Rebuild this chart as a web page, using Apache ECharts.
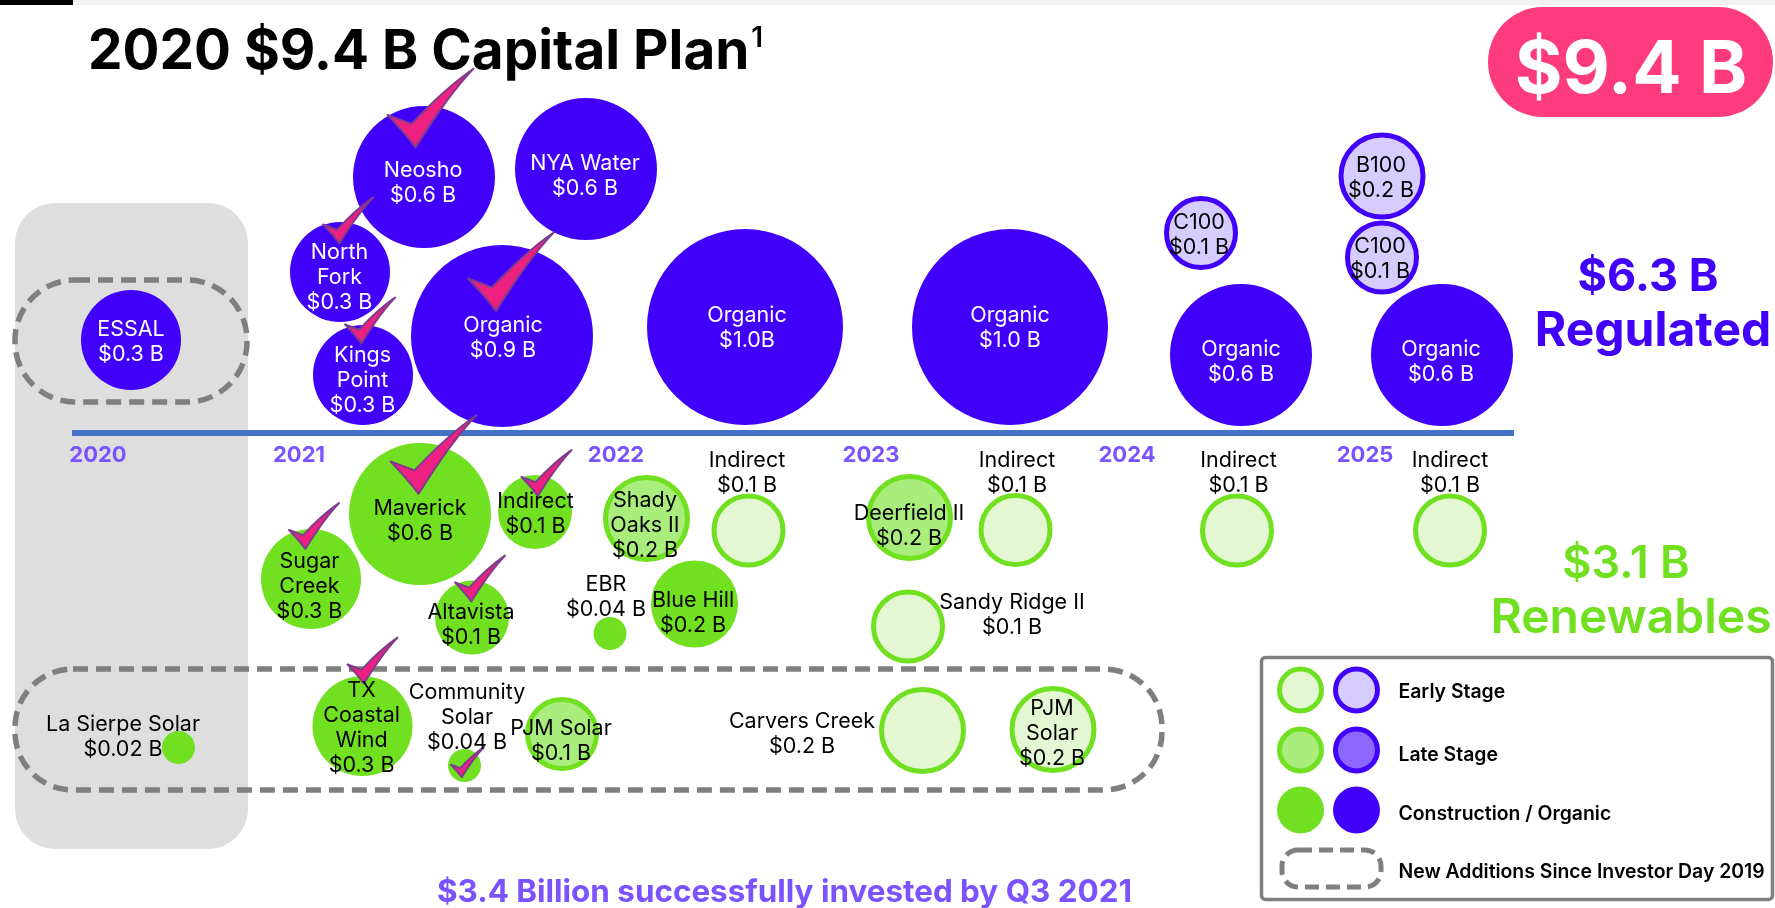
<!DOCTYPE html>
<html><head><meta charset="utf-8">
<style>html,body{margin:0;padding:0;background:#fff}#c{width:1775px;height:908px}</style>
<script src="https://cdn.jsdelivr.net/npm/echarts@6/dist/echarts.min.js"></script>
</head><body><div id="c"></div>
<script>
const FONT = 'Inter';
const titleText = '2020 $9.4 B Capital Plan';
const totalText = '$9.4 B';
const footText = '$3.4 Billion successfully invested by Q3 2021';

// Timeline
const years = ['2020','2021','2022','2023','2024','2025'];
const yearX = [98,299,616,871,1127,1365];

// Regulated projects
const regNames  = ['ESSAL','Neosho','NYA Water','North\nFork','Kings\nPoint','Organic','Organic','Organic','Organic','Organic','C100','B100','C100'];
const regAmount = ['$0.3 B','$0.6 B','$0.6 B','$0.3 B','$0.3 B','$0.9 B','$1.0B','$1.0 B','$0.6 B','$0.6 B','$0.1 B','$0.2 B','$0.1 B'];
const regValues = [0.3,0.6,0.6,0.3,0.3,0.9,1.0,1.0,0.6,0.6,0.1,0.2,0.1];
const regStage  = [2,2,2,2,2,2,2,2,2,2,0,0,0];
const regX = [131,424,586,340,363,502,745,1010,1241,1442,1201,1382,1382];
const regY = [340,177,169,272,375,336,327,327,355,355,233,176,257.5];
const regLabelX = [131,423,585,339.5,362.5,503,747,1010,1241,1441,1199,1381,1380];
const regLabelY = [342,183,176,277.5,380.5,338,328.5,328.5,362,362,235.5,178.5,259.5];

// Renewable projects
const renNames  = ['Maverick','Indirect','Sugar\nCreek','Altavista','EBR','Blue Hill','Shady\nOaks II','Indirect','Deerfield II','Indirect','Sandy Ridge II','Indirect','Indirect','La Sierpe Solar','TX\nCoastal\nWind','Community\nSolar','PJM Solar','Carvers Creek','PJM\nSolar'];
const renAmount = ['$0.6 B','$0.1 B','$0.3 B','$0.1 B','$0.04 B','$0.2 B','$0.2 B','$0.1 B','$0.2 B','$0.1 B','$0.1 B','$0.1 B','$0.1 B','$0.02 B','$0.3 B','$0.04 B','$0.1 B','$0.2 B','$0.2 B'];
const renValues = [0.6,0.1,0.3,0.1,0.04,0.2,0.2,0.1,0.2,0.1,0.1,0.1,0.1,0.02,0.3,0.04,0.1,0.2,0.2];
const renStage  = [2,2,2,2,2,2,1,0,1,0,0,0,0,2,2,2,1,0,0];
const renX = [420,535,311,472,610,694.5,646.5,748.5,909.5,1015.5,908,1237,1450,178.5,362.5,464.5,562,922.5,1053];
const renY = [514,512,579,617.5,633.5,604,518.5,530.5,517.5,530,626.5,530.5,530.5,747.5,726,765.5,734,730.5,729.5];
const renLabelX = [420,535.5,309.5,471,606,693,645,747,909,1017,1012,1238.5,1450,123,361.6,467,561,802,1052];
const renLabelY = [521,514,586.5,625,597,613,525.5,473.5,526,473.5,615,473.5,473.5,737,728.5,717.5,741,734,733.5];

// Completed ("invested") check marks
const checkX = [430.5,348,370,511,433.5,546.5,314,480,372.5,467.5];
const checkY = [108,220.5,320.5,271.5,454.5,473,526,578.5,660.5,762];
const checkTier = [2,1,1,2,2,1,1,1,1,0];

// Segment totals
const segAmounts = ['$6.3 B','$3.1 B'];
const segNames = ['Regulated','Renewables'];
const segAmountX = [1648,1626];
const segAmountY = [277,564];
const segNameX = [1653,1631];
const segNameY = [332,619];

// Legend
const legendLabels = ['Early Stage','Late Stage','Construction / Organic','New Additions Since Investor Day 2019'];
const legendY = [692,755,814,872];
const legendSwatchY = [690,750,810];

const sizeByValue = {0.02:33,0.04:33,0.1:74,0.2:87,0.3:100,0.6:142,0.9:182,1.0:196};
const checkWidth = [33,50,86];
const GREEN='#70E020', PURPLE='#4000FA';
const fills = {green:['#E3F7D2','#A9ED7C',GREEN], purple:['#D7CCFF','#8B66FF',PURPLE]};
const CHECK='path://M0 138 L72 165 Q170 60 257 0 Q180 80 84 235 Q50 190 0 138 Z';

function stageStyle(hue, stage){
  return {opacity:1,color:fills[hue][stage], borderColor:hue==='green'?GREEN:PURPLE, borderWidth:stage===2?0:5};
}
function bubbleSeries(name,hue,xs,ys,vals,stages){
  return [0,1,2].map(st=>({
    type:'scatter', name:name+' stage '+st, z:3, silent:true,
    symbolSize:d=>sizeByValue[d[2]]-(st===2?0:5),
    itemStyle:stageStyle(hue,st),
    data:xs.map((x,i)=>[x,ys[i],vals[i],stages[i]]).filter(d=>d[3]===st)
  }));
}
function textSeries(name,data,opts){
  return {type:'scatter',name,z:6,silent:true,symbolSize:1,
    itemStyle:{color:'transparent',opacity:1},
    label:Object.assign({show:true,position:'inside',align:'center',verticalAlign:'middle',fontFamily:FONT,fontSize:21.5,lineHeight:25,color:'#000',
      formatter:p=>p.value[2]},opts||{}),
    data};
}
const regLabels = regNames.map((n,i)=>({value:[regLabelX[i],regLabelY[i],n+'\n'+regAmount[i]],
  label:{color:regStage[i]===2?'#fff':'#000'}}));
const renLabels = renNames.map((n,i)=>[renLabelX[i],renLabelY[i],n+'\n'+renAmount[i]]);

const series = [
  {type:'line',name:'Timeline',z:2,silent:true,symbol:'none',lineStyle:{color:'#4472C4',width:6},data:[[72,433],[1514,433]]},
  ...bubbleSeries('Regulated','purple',regX,regY,regValues,regStage),
  ...bubbleSeries('Renewables','green',renX,renY,renValues,renStage),
  {type:'scatter',name:'Invested',z:4,silent:true,symbol:CHECK,
    symbolSize:d=>[checkWidth[d[2]],checkWidth[d[2]]*0.915],
    itemStyle:{opacity:1,color:'#EE2080',borderColor:'#7F3C8E',borderWidth:2,borderJoin:'round'},
    data:checkX.map((x,i)=>[x,checkY[i],checkTier[i]])},
  textSeries('Regulated labels',regLabels),
  textSeries('Renewables labels',renLabels),
  textSeries('Years',years.map((y,i)=>[yearX[i],455,y]),{fontSize:22,fontWeight:700,color:'#7B52FF'}),
  textSeries('Regulated amount',[[segAmountX[0],segAmountY[0],segAmounts[0]]],{fontSize:45,fontWeight:700,color:PURPLE}),
  textSeries('Regulated name',[[segNameX[0],segNameY[0],segNames[0]]],{fontSize:48,fontWeight:700,color:PURPLE}),
  textSeries('Renewables amount',[[segAmountX[1],segAmountY[1],segAmounts[1]]],{fontSize:45,fontWeight:600,color:GREEN}),
  textSeries('Renewables name',[[segNameX[1],segNameY[1],segNames[1]]],{fontSize:48,fontWeight:600,color:GREEN}),
  textSeries('Foot',[[784.5,893,footText]],{fontSize:31.4,fontWeight:700,color:'#7B52FF'}),
  textSeries('Legend text',legendLabels.map((t,i)=>[1398,legendY[i],t]),{position:'right',distance:0,align:'left',fontSize:19.4,fontWeight:600}),
  {type:'scatter',name:'Legend green',z:3,silent:true,symbolSize:(d)=>d[2]===2?47:42,
    data:legendSwatchY.map((y,i)=>({value:[1300.5,y,i],itemStyle:stageStyle('green',i)}))},
  {type:'scatter',name:'Legend purple',z:3,silent:true,symbolSize:(d)=>d[2]===2?47:42,
    data:legendSwatchY.map((y,i)=>({value:[1356.5,y,i],itemStyle:stageStyle('purple',i)}))}
];

const dash={stroke:'#7F7F7F',fill:'transparent',lineWidth:5.5,lineDash:[15,8]};
const chart = echarts.init(document.getElementById('c'),null,{renderer:'canvas'});
chart.setOption({
  animation:false,
  backgroundColor:'#fff',
  title:{text:'{a|'+titleText+'}{s|1}',left:83,top:20,textStyle:{rich:{
    a:{fontFamily:FONT,fontWeight:700,fontSize:54.8,color:'#000'},
    s:{fontFamily:FONT,fontWeight:600,fontSize:28,color:'#000',verticalAlign:'top',padding:[0,0,20,2]}}}},
  grid:{left:0,right:0,top:0,bottom:0},
  xAxis:{type:'value',min:0,max:1775,show:false},
  yAxis:{type:'value',min:0,max:908,inverse:true,show:false},
  graphic:[
    {type:'rect',shape:{x:0,y:0,width:1775,height:5},style:{fill:'#F2F2F2'}},
    {type:'rect',shape:{x:0,y:0,width:73,height:5},style:{fill:'#000'}},
    {type:'rect',shape:{x:15,y:203,width:233,height:646,r:40},style:{fill:'#DEDEDE'}},
    {type:'rect',shape:{x:15,y:280,width:232,height:122,r:60},style:dash},
    {type:'rect',shape:{x:15,y:669,width:1147,height:121,r:58},style:dash},
    {type:'rect',shape:{x:1488,y:7,width:285,height:110,r:55},style:{fill:'#FF3B7F'}},
    {type:'text',style:{text:totalText,x:1631,y:71,align:'center',verticalAlign:'middle',font:'700 73px '+FONT,fill:'#fff'}},
    {type:'rect',shape:{x:1261.5,y:657.5,width:511,height:242,r:4},style:{fill:'transparent',stroke:'#7F7F7F',lineWidth:3.5}},
    {type:'rect',shape:{x:1282,y:850,width:99,height:37,r:16},style:{stroke:'#7F7F7F',fill:'transparent',lineWidth:5,lineDash:[14,7]}}
  ],
  series
});
</script></body></html>
